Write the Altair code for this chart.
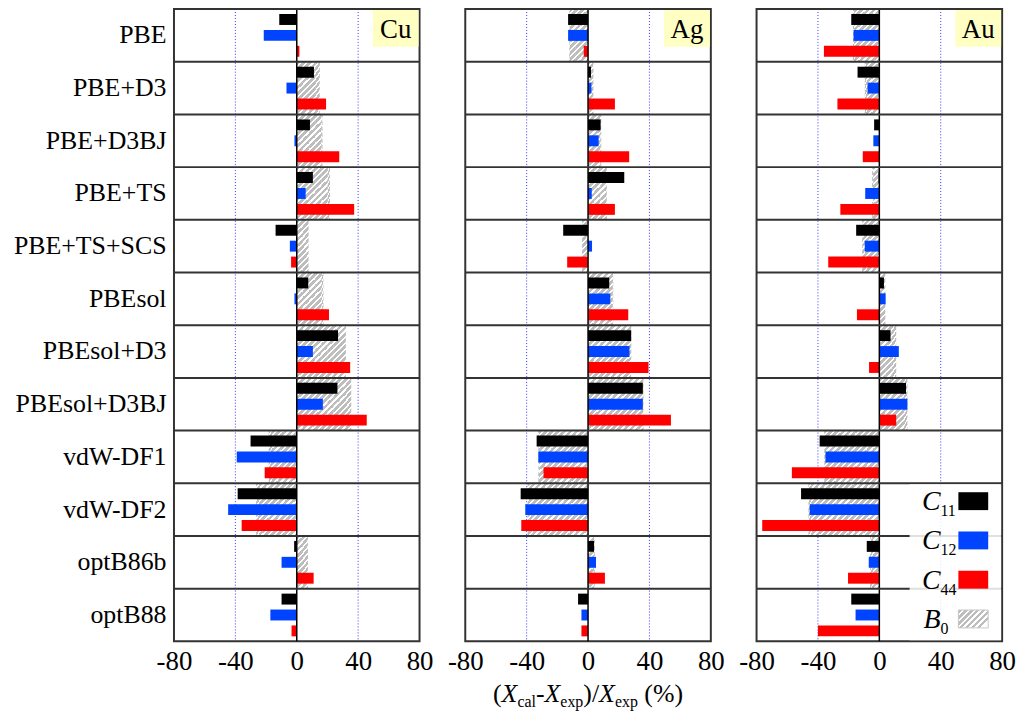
import altair as alt
import pandas as pd

# ---------------- data ----------------
functionals = ["PBE", "PBE+D3", "PBE+D3BJ", "PBE+TS", "PBE+TS+SCS", "PBEsol",
               "PBEsol+D3", "PBEsol+D3BJ", "vdW-DF1", "vdW-DF2", "optB86b", "optB88"]
metals = ["Cu", "Ag", "Au"]
series = ["C11", "C12", "C44"]
tick_values = [-80, -40, 0, 40, 80]
grid_values = [-40, 40]
zero_value = [0]

cu_c11 = [-11.4, 11.2, 8.6, 10.5, -13.8, 7.5, 26.9, 26.5, -30.1, -38.5, -1.7, -9.9]
cu_c12 = [-21.5, -6.7, -1.5, 5.8, -4.5, -1.5, 10.5, 17.0, -39.1, -44.7, -9.9, -17.2]
cu_c44 = [1.7, 19.1, 27.7, 37.4, -3.7, 21.0, 34.8, 45.6, -20.9, -35.9, 11.0, -3.4]
cu_b0 = [0.0, 15.0, 16.8, 21.7, 7.7, 17.4, 32.0, 35.5, -18.3, -26.5, 7.3, 0.0]

ag_c11 = [-13.0, 1.9, 8.2, 23.6, -16.2, 13.8, 28.1, 35.7, -33.5, -43.9, 3.9, -6.5]
ag_c12 = [-13.0, 2.2, 6.9, 2.4, 2.6, 14.5, 27.0, 35.7, -32.4, -40.9, 5.2, -4.3]
ag_c44 = [-2.8, 17.5, 26.8, 17.5, -13.6, 26.2, 39.4, 54.0, -29.0, -43.5, 11.0, -4.3]
ag_b0 = [-12.3, 3.5, 8.6, 12.3, -3.9, 16.4, 28.1, 36.1, -32.4, -39.4, 4.5, 0.0]

au_c11 = [-18.3, -14.2, -3.4, -0.5, -15.1, 3.0, 7.3, 17.4, -38.9, -51.0, -8.2, -18.3]
au_c12 = [-16.8, -7.7, -3.9, -9.2, -9.5, 4.1, 12.7, 18.3, -35.1, -45.4, -6.9, -15.5]
au_c44 = [-36.1, -27.3, -10.8, -25.4, -33.3, -14.6, -6.7, 11.0, -57.0, -76.3, -20.4, -40.0]
au_b0 = [-17.2, -9.5, 0.0, -4.7, -11.2, 3.9, 11.0, 18.3, -35.9, -46.2, -6.0, 0.0]

metal_values = {
    "Cu": (cu_c11, cu_c12, cu_c44, cu_b0),
    "Ag": (ag_c11, ag_c12, ag_c44, ag_b0),
    "Au": (au_c11, au_c12, au_c44, au_b0),
}

# ---------------- style ----------------
FONT = "Liberation Serif"
W, H = 247, 636
XMIN, XMAX = -80, 80
BAND = H / len(functionals)
PXU = W / (XMAX - XMIN)
SEG = 4.0  # data units per hatch tile
BAR_COLORS = ["#000000", "#0044ff", "#ff0000"]
GREY = "#bdbdbd"


def hatch(w, h, period_px, frac=0.62):
    """Diagonal '/' hatch as a sharp-stop linear gradient for a w x h box."""
    r = h / w
    P = period_px / w
    denom = 1 + r * r
    smax = 1 + r
    stops = []
    k = 0
    while k * P < smax + P:
        s0 = k * P
        s1 = s0 + frac * P
        s2 = s0 + P
        for s, c in [(s0, GREY), (s1, GREY), (s1, "#ffffff"), (s2, "#ffffff")]:
            stops.append(alt.GradientStop(color=c, offset=min(s / denom, 1.0)))
        k += 1
    return alt.LinearGradient(gradient="linear", stops=stops, x1=0, y1=0, x2=1, y2=r)


seg_px = SEG * PXU
bar_hatch = hatch(seg_px, BAND, seg_px)
legend_hatch = hatch(30, 18, 6)

xscale = alt.Scale(domain=[XMIN, XMAX], nice=False, zero=True)
yscale = alt.Scale(domain=functionals, paddingInner=0, paddingOuter=0)

x_axis = alt.Axis(values=tick_values, labelExpr="'' + datum.value", title=None,
                  ticks=False, domain=False, grid=False, labelFont=FONT,
                  labelFontSize=27, labelColor="black", labelPadding=7,
                  labelFlush=False)
y_axis_on = alt.Axis(title=None, ticks=False, domain=False, grid=False,
                     labelFont=FONT, labelFontSize=26, labelColor="black",
                     labelPadding=8, labelLimit=400)
y_axis_off = alt.Axis(title=None, ticks=False, domain=False, grid=False,
                      labels=False)


def text_layer(txt, x, y, size, align="left", style="normal", baseline="alphabetic"):
    return alt.Chart(pd.DataFrame({"t": [txt]})).mark_text(
        font=FONT, fontSize=size, fontStyle=style, align=align,
        baseline=baseline, color="black"
    ).encode(x=alt.value(x), y=alt.value(y), text="t:N")


def legend_layers():
    layers = [
        alt.Chart(pd.DataFrame({"a": [1]})).mark_rect(color="white", opacity=0.85).encode(
            x=alt.value(154), x2=alt.value(246), y=alt.value(478), y2=alt.value(635))
    ]
    entries = [("C", "11", BAR_COLORS[0]), ("C", "12", BAR_COLORS[1]),
               ("C", "44", BAR_COLORS[2]), ("B", "0", None)]
    for i, (main, sub, col) in enumerate(entries):
        top = 486 + i * 39.5
        if col is None:
            rect = alt.Chart(pd.DataFrame({"a": [1]})).mark_rect(
                color=legend_hatch, stroke="#c8c8c8", strokeWidth=1)
        else:
            rect = alt.Chart(pd.DataFrame({"a": [1]})).mark_rect(color=col)
        layers.append(rect.encode(x=alt.value(203), x2=alt.value(233),
                                  y=alt.value(top), y2=alt.value(top + 18)))
        layers.append(text_layer(main, 185, top + 18, 28, align="right", style="italic"))
        layers.append(text_layer(sub, 185, top + 24, 16, align="left"))
    return layers


# Liberation Serif (Times) advance widths in em
ADV = {"(": 0.333, ")": 0.333, "/": 0.278, "-": 0.333, " ": 0.25, "%": 0.833,
       "X": 0.611, "c": 0.444, "a": 0.444, "l": 0.278, "e": 0.444, "x": 0.5, "p": 0.5}


def title_layers(center, base):
    F, S = 26, 16
    # (text, size, style, baseline shift, extra gap before in em)
    parts = [("(", F, "normal", 0, 0), ("X", F, "italic", 0, 0), ("cal", S, "normal", 5, 0),
             ("-", F, "normal", 0, 0), ("X", F, "italic", 0, 0), ("exp", S, "normal", 5, 0),
             (")/", F, "normal", 0, 0), ("X", F, "italic", 0, 0), ("exp", S, "normal", 5, 0),
             ("(%)", F, "normal", 0, 0.25)]
    widths = [(sum(ADV[ch] for ch in t) + gap) * f for t, f, _, _, gap in parts]
    x = center - sum(widths) / 2
    layers = []
    for (t, f, st, dy, gap), w in zip(parts, widths):
        layers.append(text_layer(t, x + gap * f, base + dy, f, style=st))
        x += w
    return layers


def panel(metal, show_y):
    c11, c12, c44, b0 = metal_values[metal]
    y_axis = y_axis_on if show_y else y_axis_off
    bar_df = pd.DataFrame({
        "functional": functionals * 3,
        "series": [s for s in series for _ in functionals],
        "value": c11 + c12 + c44,
    })
    b0_df = pd.DataFrame({"functional": functionals, "B0": b0})

    def Y(**kw):
        return alt.Y("functional:N", sort=functionals, scale=yscale, axis=y_axis, **kw)

    def X(field, **kw):
        return alt.X(field, scale=xscale, axis=x_axis, **kw)

    grid = alt.Chart(pd.DataFrame({"v": grid_values})).mark_rule(
        color="#3838ff", strokeDash=[1, 2], strokeWidth=1
    ).encode(x=X("v:Q"))

    b0_bars = alt.Chart(b0_df).transform_calculate(
        segs=f"sequence(0, abs(datum.B0), {SEG})"
    ).transform_flatten(["segs"]).transform_calculate(
        xs="datum.B0 < 0 ? -datum.segs : datum.segs",
        xe=f"(datum.B0 < 0 ? -1 : 1) * min(datum.segs + {SEG} + 0.15, abs(datum.B0))",
    ).mark_bar(color=bar_hatch).encode(
        x=X("xs:Q"),
        x2="xe:Q",
        y=Y(),
    )

    c_bars = alt.Chart(bar_df).mark_bar().encode(
        x=X("value:Q", stack=None),
        y=Y(),
        yOffset=alt.YOffset("series:N", sort=series,
                            scale=alt.Scale(domain=series, paddingInner=0.3125,
                                            paddingOuter=0.3125)),
        color=alt.Color("series:N", sort=series,
                        scale=alt.Scale(domain=series, range=BAR_COLORS), legend=None),
    )

    zero = alt.Chart(pd.DataFrame({"z": zero_value})).mark_rule(
        color="black", strokeWidth=1.5
    ).encode(x=X("z:Q"))

    seps = alt.Chart(pd.DataFrame({"functional": functionals})).mark_rule(
        color="#333333", strokeWidth=2
    ).encode(y=Y(bandPosition=0))

    label_box = alt.Chart(pd.DataFrame({"m": [metal]})).mark_rect(color="#ffffc4").encode(
        x=alt.value(200), x2=alt.value(246), y=alt.value(1), y2=alt.value(38))
    label_txt = alt.Chart(pd.DataFrame({"m": [metal]})).mark_text(
        font=FONT, fontSize=27, color="black", align="center", baseline="alphabetic"
    ).encode(x=alt.value(223), y=alt.value(29), text="m:N")

    layers = [grid, b0_bars, c_bars, zero, seps, label_box, label_txt]
    if metal == "Au":
        layers += legend_layers()
    if metal == "Ag":
        layers += title_layers(W / 2, 697)
    return alt.layer(*layers).properties(width=W, height=H)


chart = alt.hconcat(
    panel("Cu", True), panel("Ag", False), panel("Au", False),
    spacing=46, bounds="flush"
).properties(
    padding={"left": 12, "top": 5, "right": 5, "bottom": 5},
    background="white",
).configure_view(stroke="#333333", strokeWidth=2)

chart.save("out.html", embed_options={"renderer": "svg", "actions": False})
